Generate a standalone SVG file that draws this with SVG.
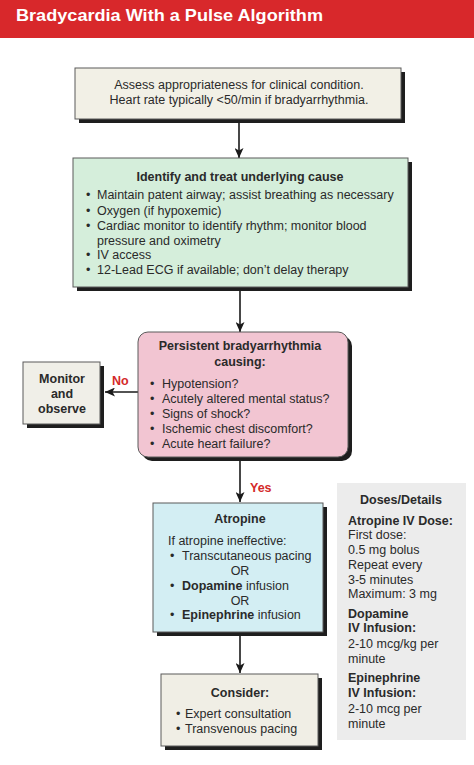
<svg xmlns="http://www.w3.org/2000/svg" width="474" height="765" viewBox="0 0 474 765">
<defs>
<marker id="ah" viewBox="0 0 10 9" markerWidth="10" markerHeight="9" refX="10" refY="4.5" orient="auto" markerUnits="userSpaceOnUse">
<path d="M0,0 L10,4.5 L0,9 L2.5,4.5 z" fill="#1a1a1a"/>
</marker>
<style>
text{font-family:"Liberation Sans",Arial,sans-serif;font-size:12.5px;fill:#2a2a2a}
.b{font-weight:bold}
.c{text-anchor:middle}
.red{fill:#d42a2a;font-weight:bold}
.box{stroke:#5a5a5a;stroke-width:1}
.sh{fill:#1e1e1e}
.con{stroke:#1a1a1a;stroke-width:1.6;fill:none;marker-end:url(#ah)}
</style>
</defs>
<rect x="0" y="0" width="474" height="765" fill="#ffffff"/>
<g id="header">
<rect x="0" y="0" width="474" height="38" fill="#d8282b"/>
<text x="16" y="21" class="b" style="font-size:17px;fill:#ffffff" textLength="307" lengthAdjust="spacingAndGlyphs">Bradycardia With a Pulse Algorithm</text>
</g>
<g id="connectors">
<line class="con" x1="239" y1="119" x2="239" y2="158"/>
<line class="con" x1="240" y1="287" x2="240" y2="332"/>
<line class="con" x1="138" y1="392" x2="105" y2="392"/>
<line class="con" x1="240" y1="457" x2="240" y2="502"/>
<line class="con" x1="240" y1="632" x2="240" y2="673"/>
</g>
<g id="assess">
<rect class="sh" x="79" y="72" width="326" height="51"/>
<rect class="box" x="75" y="68" width="326" height="51" fill="#f2f0e6"/>
<text class="c" x="239" y="89">Assess appropriateness for clinical condition.</text>
<text class="c" x="239" y="104">Heart rate typically &lt;50/min if bradyarrhythmia.</text>
</g>
<g id="identify">
<rect class="sh" x="77" y="162" width="335" height="129"/>
<rect class="box" x="73" y="158" width="335" height="129" fill="#d5eedb"/>
<text class="c b" x="240" y="181">Identify and treat underlying cause</text>
<text x="86" y="199">•</text><text x="97" y="199">Maintain patent airway; assist breathing as necessary</text>
<text x="86" y="215">•</text><text x="97" y="215">Oxygen (if hypoxemic)</text>
<text x="86" y="230">•</text><text x="97" y="230">Cardiac monitor to identify rhythm; monitor blood</text>
<text x="97" y="245">pressure and oximetry</text>
<text x="86" y="259">•</text><text x="97" y="259">IV access</text>
<text x="86" y="274">•</text><text x="97" y="274">12-Lead ECG if available; don’t delay therapy</text>
</g>
<g id="persistent">
<rect class="sh" x="142" y="336" width="210" height="125" rx="10"/>
<rect class="box" x="138" y="332" width="210" height="125" rx="10" fill="#f2c5d2"/>
<text class="c b" x="240" y="350">Persistent bradyarrhythmia</text>
<text class="c b" x="240" y="366">causing:</text>
<text x="150" y="388">•</text><text x="162" y="388">Hypotension?</text>
<text x="150" y="403">•</text><text x="162" y="403">Acutely altered mental status?</text>
<text x="150" y="418">•</text><text x="162" y="418">Signs of shock?</text>
<text x="150" y="433">•</text><text x="162" y="433">Ischemic chest discomfort?</text>
<text x="150" y="448">•</text><text x="162" y="448">Acute heart failure?</text>
</g>
<g id="monitor">
<rect class="sh" x="27" y="366" width="77" height="62"/>
<rect class="box" x="23" y="362" width="77" height="62" fill="#f0efe8"/>
<text class="c b" x="62" y="383">Monitor</text>
<text class="c b" x="62" y="398">and</text>
<text class="c b" x="62" y="413">observe</text>
</g>
<g id="labels">
<text class="red" x="112" y="385">No</text>
<text class="red" x="250" y="492">Yes</text>
</g>
<g id="atropine">
<rect class="sh" x="157" y="507" width="170" height="129"/>
<rect class="box" x="153" y="503" width="170" height="129" fill="#d3eef3"/>
<text class="c b" x="240" y="523">Atropine</text>
<text x="168" y="545">If atropine ineffective:</text>
<text x="170" y="560">•</text><text x="182" y="560">Transcutaneous pacing</text>
<text class="c" x="240" y="575">OR</text>
<text x="170" y="590">•</text><text x="182" y="590"><tspan class="b">Dopamine</tspan> infusion</text>
<text class="c" x="240" y="605">OR</text>
<text x="170" y="619">•</text><text x="182" y="619"><tspan class="b">Epinephrine</tspan> infusion</text>
</g>
<g id="consider">
<rect class="sh" x="165" y="678" width="157" height="72"/>
<rect class="box" x="161" y="674" width="157" height="72" fill="#f0eee5"/>
<text class="c b" x="240" y="697">Consider:</text>
<text x="176" y="718">•</text><text x="185" y="718">Expert consultation</text>
<text x="176" y="733">•</text><text x="185" y="733">Transvenous pacing</text>
</g>
<g id="doses">
<rect x="337" y="483" width="129" height="257" fill="#ececec"/>
<text class="c b" x="401" y="504">Doses/Details</text>
<text class="b" x="348" y="525">Atropine IV Dose:</text>
<text x="348" y="539">First dose:</text>
<text x="348" y="554">0.5 mg bolus</text>
<text x="348" y="569">Repeat every</text>
<text x="348" y="584">3-5 minutes</text>
<text x="348" y="598">Maximum: 3 mg</text>
<text class="b" x="348" y="618">Dopamine</text>
<text class="b" x="348" y="632">IV Infusion:</text>
<text x="348" y="648">2-10 mcg/kg per</text>
<text x="348" y="663">minute</text>
<text class="b" x="348" y="682">Epinephrine</text>
<text class="b" x="348" y="697">IV Infusion:</text>
<text x="348" y="713">2-10 mcg per</text>
<text x="348" y="728">minute</text>
</g>
</svg>
